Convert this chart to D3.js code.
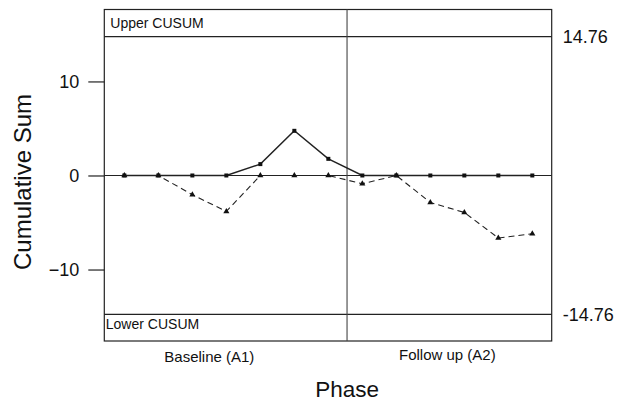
<!DOCTYPE html>
<html><head><meta charset="utf-8">
<script src="https://cdn.jsdelivr.net/npm/d3@7"></script>
<style>body{margin:0;background:#fff}svg{display:block}text{font-family:"Liberation Sans",Arial,Helvetica,sans-serif;fill:#111}</style>
</head><body>
<svg id="c" width="627" height="406"></svg>
<script>
const sessions = [1,2,3,4,5,6,7,8,9,10,11,12,13];
const upperCusum = [0,0,0,0,1.21,4.75,1.77,0,0,0,0,0,0];
const lowerCusum = [0,0,-2.05,-3.82,0,0,0,-0.88,0,-2.87,-3.93,-6.65,-6.19];
const yTicks = [-10,0,10];
const limits = [14.76,-14.76];
const limitLabels = ["14.76","-14.76"];
const phases = ["Baseline (A1)","Follow up (A2)"];
const phasePos = [3.5,10.5];
const phaseChange = 7.55;

const svg = d3.select("#c");
const L=104.3, R=551.7, T=9.5, B=341;
const x = d3.scaleLinear().domain([0.41,13.57]).range([L,R]);
const y = d3.scaleLinear().domain([-17.6,17.65]).range([B,T]);
const ink="#222";

// frame
svg.append("rect").attr("x",L).attr("y",T).attr("width",R-L).attr("height",B-T)
  .attr("fill","none").attr("stroke",ink).attr("stroke-width",1.2);

// y axis ticks
const yAxis = d3.axisLeft(y).tickValues(yTicks).tickSize(16).tickPadding(9).tickFormat(d3.format("d"));
const ga = svg.append("g").attr("transform",`translate(${L},0)`).call(yAxis);
ga.select(".domain").remove();
ga.selectAll(".tick line").attr("stroke",ink).attr("stroke-width",1.2);
ga.selectAll(".tick text").attr("font-size",18).attr("fill","#111")
  .style("font-family",'"Liberation Sans",Arial,sans-serif');

// zero line
svg.append("line").attr("x1",L).attr("x2",R).attr("y1",y(0)).attr("y2",y(0))
  .attr("stroke",ink).attr("stroke-width",1.2);

// limits
limits.forEach((v,i)=>{
  svg.append("line").attr("x1",L).attr("x2",R).attr("y1",y(v)).attr("y2",y(v))
    .attr("stroke",ink).attr("stroke-width",1.2);
  svg.append("text").attr("x",R+11).attr("y",y(v)+6.5).attr("font-size",18).text(limitLabels[i]);
});

// phase divider
svg.append("line").attr("x1",x(phaseChange)).attr("x2",x(phaseChange)).attr("y1",T).attr("y2",B)
  .attr("stroke","#444").attr("stroke-width",1.1);

// region labels
svg.append("text").attr("x",L+6).attr("y",y(14.76)-9).attr("font-size",14).text("Upper CUSUM");
svg.append("text").attr("x",L+1.5).attr("y",y(-14.76)+14.5).attr("font-size",14).text("Lower CUSUM");

// phase labels
phases.forEach((p,i)=>{
  svg.append("text").attr("x",x(phasePos[i])).attr("y",i===0?362:359.5).attr("text-anchor","middle")
    .attr("font-size",15).text(p);
});

// axis titles
svg.append("text").attr("x",x(phaseChange)).attr("y",397).attr("text-anchor","middle")
  .attr("font-size",22.5).text("Phase");
svg.append("text").attr("transform","translate(31,182) rotate(-90)").attr("text-anchor","middle")
  .attr("font-size",24).text("Cumulative Sum");

// lower series (dashed, triangles)
const lineGen = d3.line().x((d,i)=>x(sessions[i])).y(d=>y(d));
svg.append("path").datum(lowerCusum).attr("d",lineGen).attr("fill","none")
  .attr("stroke",ink).attr("stroke-width",1.1).attr("stroke-dasharray","6,4");
const tri = d3.symbol().type(d3.symbolTriangle).size(16);
svg.selectAll(".tri").data(lowerCusum).join("path").attr("class","tri")
  .attr("d",tri).attr("fill","#111")
  .attr("transform",(d,i)=>`translate(${x(sessions[i])},${y(d)})`);

// upper series (solid, squares)
svg.append("path").datum(upperCusum).attr("d",lineGen).attr("fill","none")
  .attr("stroke",ink).attr("stroke-width",1.4);
svg.selectAll(".sq").data(upperCusum).join("rect").attr("class","sq")
  .attr("x",(d,i)=>x(sessions[i])-2).attr("y",d=>y(d)-2).attr("width",4).attr("height",4)
  .attr("fill","#111");
</script>
</body></html>
